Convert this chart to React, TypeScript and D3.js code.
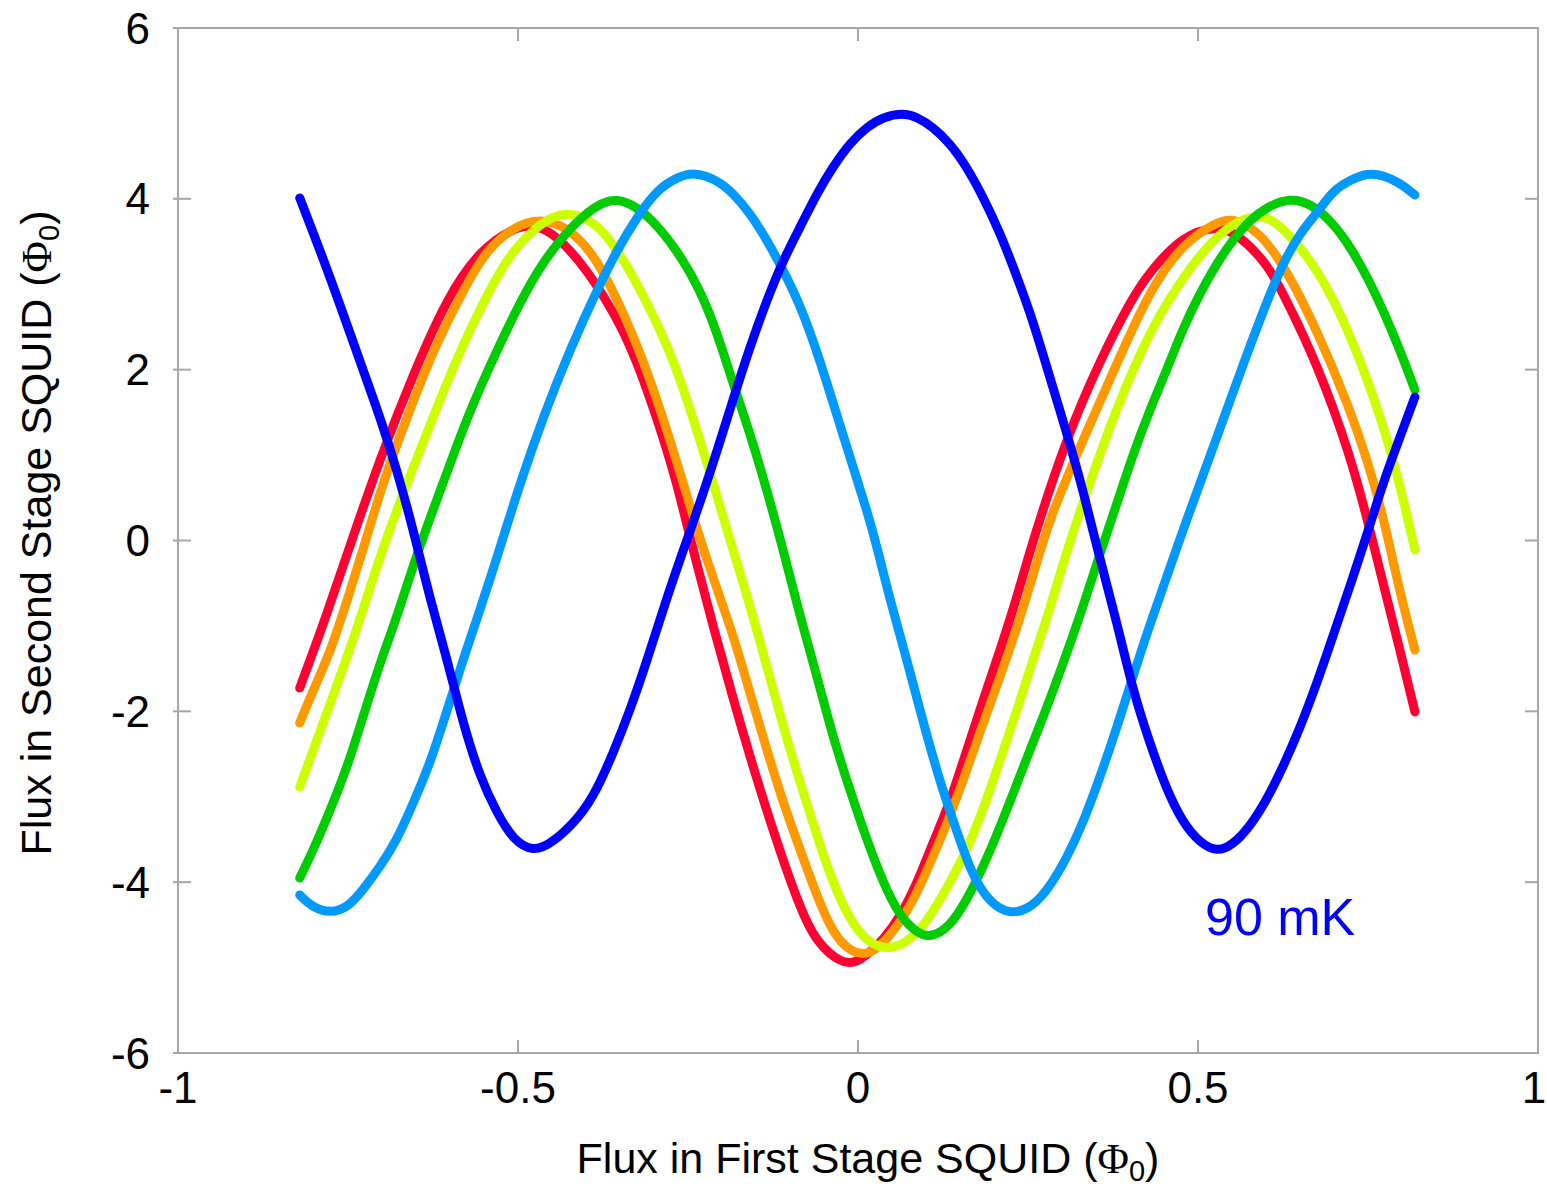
import React from "react";
import * as d3 from "d3";

// ---- Data ----
const xTicks = [-1, -0.5, 0, 0.5, 1];
const yTicks = [-6, -4, -2, 0, 2, 4, 6];

const redX = [-0.821,-0.784,-0.751,-0.703,-0.654,-0.604,-0.556,-0.507,-0.482,-0.453,-0.409,-0.365,-0.331,-0.296,-0.266,-0.243,-0.184,-0.134,-0.085,-0.06,-0.026,-0.004,0.013,0.037,0.062,0.087,0.11,0.135,0.16,0.184,0.209,0.234,0.257,0.307,0.356,0.404,0.429,0.478,0.528,0.557,0.601,0.625,0.675,0.724,0.753,0.772,0.797,0.819];
const redY = [-1.727,-0.93,-0.15,0.96,1.95,2.85,3.401,3.658,3.693,3.635,3.284,2.757,2.23,1.446,0.673,-0.111,-1.867,-3.19,-4.326,-4.712,-4.946,-4.946,-4.853,-4.677,-4.408,-4.01,-3.541,-3.073,-2.453,-1.867,-1.282,-0.66,0.0,1.212,2.113,2.851,3.143,3.576,3.682,3.6,3.249,2.897,2.078,1.0,0.123,-0.498,-1.282,-2.008];

const orangeX = [-0.821,-0.801,-0.776,-0.751,-0.728,-0.699,-0.663,-0.625,-0.575,-0.546,-0.507,-0.468,-0.428,-0.394,-0.365,-0.321,-0.287,-0.257,-0.228,-0.184,-0.159,-0.134,-0.11,-0.085,-0.06,-0.037,-0.012,0.013,0.032,0.062,0.087,0.11,0.135,0.16,0.184,0.209,0.234,0.257,0.282,0.331,0.381,0.429,0.478,0.528,0.551,0.587,0.625,0.675,0.724,0.749,0.772,0.797,0.819];
const orangeY = [-2.137,-1.75,-1.305,-0.697,-0.111,0.673,1.446,2.23,3.015,3.401,3.67,3.775,3.67,3.401,3.015,2.23,1.446,0.673,-0.111,-1.083,-1.785,-2.453,-3.073,-3.623,-4.174,-4.595,-4.817,-4.853,-4.759,-4.478,-4.127,-3.705,-3.237,-2.687,-2.137,-1.598,-1.013,-0.427,0.275,1.177,2.078,2.933,3.483,3.729,3.775,3.635,3.249,2.464,1.528,0.94,0.299,-0.615,-1.282];

const yellowX = [-0.821,-0.801,-0.751,-0.728,-0.7,-0.663,-0.625,-0.585,-0.537,-0.507,-0.468,-0.428,-0.384,-0.354,-0.325,-0.276,-0.243,-0.213,-0.184,-0.159,-0.134,-0.11,-0.085,-0.06,-0.037,-0.012,0.013,0.043,0.072,0.101,0.135,0.16,0.184,0.209,0.234,0.257,0.282,0.307,0.341,0.375,0.429,0.478,0.528,0.587,0.625,0.675,0.724,0.772,0.797,0.819];
const yellowY = [-2.886,-2.45,-1.364,-0.814,-0.111,0.673,1.446,2.23,3.015,3.401,3.717,3.869,3.717,3.401,3.015,2.23,1.446,0.673,-0.111,-0.755,-1.481,-2.183,-2.839,-3.471,-4.01,-4.443,-4.7,-4.794,-4.712,-4.478,-4.01,-3.623,-3.155,-2.57,-1.984,-1.399,-0.814,-0.111,0.673,1.446,2.464,3.085,3.6,3.869,3.67,3.202,2.429,1.376,0.65,-0.111];

const greenX = [-0.821,-0.801,-0.776,-0.751,-0.728,-0.703,-0.678,-0.647,-0.61,-0.575,-0.531,-0.487,-0.453,-0.409,-0.365,-0.335,-0.306,-0.266,-0.232,-0.207,-0.184,-0.159,-0.134,-0.11,-0.085,-0.06,-0.037,-0.012,0.013,0.037,0.062,0.087,0.106,0.135,0.16,0.184,0.209,0.234,0.257,0.282,0.307,0.331,0.356,0.381,0.404,0.429,0.454,0.478,0.503,0.528,0.551,0.576,0.601,0.635,0.665,0.699,0.724,0.749,0.772,0.797,0.819];
const greenY = [-3.951,-3.623,-3.155,-2.652,-2.066,-1.434,-0.896,-0.111,0.673,1.446,2.23,2.95,3.38,3.787,4.021,3.951,3.787,3.401,2.933,2.429,1.844,1.258,0.591,-0.111,-0.896,-1.598,-2.3,-2.921,-3.506,-4.01,-4.408,-4.595,-4.653,-4.525,-4.209,-3.822,-3.354,-2.839,-2.371,-1.867,-1.317,-0.779,-0.146,0.439,1.001,1.528,1.996,2.488,2.897,3.249,3.518,3.752,3.904,4.01,3.951,3.717,3.436,3.085,2.698,2.23,1.762];

const lightBlueX = [-0.821,-0.801,-0.776,-0.751,-0.728,-0.703,-0.678,-0.654,-0.629,-0.604,-0.581,-0.556,-0.531,-0.497,-0.463,-0.424,-0.379,-0.354,-0.325,-0.296,-0.266,-0.24,-0.207,-0.184,-0.159,-0.134,-0.11,-0.085,-0.06,-0.037,-0.012,0.013,0.028,0.047,0.072,0.096,0.121,0.146,0.169,0.194,0.224,0.257,0.282,0.307,0.331,0.356,0.381,0.404,0.429,0.454,0.478,0.503,0.528,0.551,0.576,0.601,0.625,0.65,0.675,0.699,0.724,0.749,0.772,0.797,0.819];
const lightBlueY = [-4.15,-4.302,-4.361,-4.302,-4.091,-3.822,-3.506,-3.073,-2.605,-1.984,-1.399,-0.814,-0.205,0.673,1.446,2.23,3.015,3.401,3.787,4.103,4.255,4.314,4.22,4.068,3.834,3.518,3.167,2.757,2.207,1.621,0.978,0.357,-0.076,-0.697,-1.399,-2.137,-2.839,-3.424,-3.939,-4.244,-4.384,-4.291,-4.056,-3.717,-3.307,-2.769,-2.183,-1.598,-0.989,-0.427,0.123,0.673,1.212,1.727,2.265,2.792,3.249,3.6,3.834,4.103,4.22,4.302,4.279,4.185,4.045];

const blueX = [-0.821,-0.776,-0.728,-0.703,-0.678,-0.654,-0.629,-0.604,-0.581,-0.556,-0.531,-0.507,-0.478,-0.449,-0.409,-0.384,-0.36,-0.335,-0.31,-0.287,-0.257,-0.222,-0.184,-0.159,-0.134,-0.11,-0.085,-0.06,-0.037,-0.012,0.013,0.037,0.066,0.087,0.11,0.135,0.16,0.184,0.209,0.234,0.257,0.282,0.307,0.331,0.351,0.381,0.404,0.429,0.454,0.478,0.503,0.528,0.551,0.576,0.601,0.625,0.65,0.675,0.699,0.724,0.746,0.772,0.797,0.819];
const blueY = [4.01,3.085,1.996,1.446,0.825,0.123,-0.697,-1.399,-2.137,-2.769,-3.19,-3.506,-3.647,-3.541,-3.237,-2.921,-2.488,-1.984,-1.399,-0.814,-0.111,0.673,1.645,2.265,2.815,3.284,3.67,4.068,4.373,4.653,4.841,4.958,5.005,4.958,4.841,4.653,4.373,4.021,3.6,3.085,2.581,1.914,1.258,0.591,-0.076,-0.966,-1.75,-2.371,-2.921,-3.307,-3.541,-3.647,-3.565,-3.354,-3.038,-2.652,-2.195,-1.668,-1.106,-0.521,0.006,0.673,1.212,1.68];

const seriesNames = ["red", "orange", "yellow", "green", "lightblue", "blue"];
const seriesX = [redX, orangeX, yellowX, greenX, lightBlueX, blueX];
const seriesY = [redY, orangeY, yellowY, greenY, lightBlueY, blueY];
const seriesColors = ["#ff0033", "#ff9900", "#ccff00", "#00cc00", "#0099ff", "#0000ff"];

const annotation = "90 mK";

export default function App() {
  const W = 1547, H = 1188;
  const left = 178, right = 1538, top = 28, bottom = 1053;
  const x = d3.scaleLinear().domain([-1, 1]).range([left, right]);
  const y = d3.scaleLinear().domain([-6, 6]).range([bottom, top]);
  const line = d3
    .line<[number, number]>()
    .x((d) => x(d[0]))
    .y((d) => y(d[1]))
    .curve(d3.curveBasis);

  const font = "'Liberation Sans', Arial, Helvetica, sans-serif";
  const serif = "'Liberation Serif', 'DejaVu Serif', serif";
  const axisColor = "#a6a6a6";

  return (
    <svg
      width={W}
      height={H}
      viewBox={`0 0 ${W} ${H}`}
      style={{ position: "absolute", left: 0, top: 0, background: "#fff" }}
    >
      <rect x={0} y={0} width={W} height={H} fill="#fff" />
      {/* ticks */}
      {yTicks.map((t) => (
        <g key={"yt" + t}>
          <line x1={left - 5} x2={left + 13} y1={y(t)} y2={y(t)} stroke={axisColor} strokeWidth={2} />
          <line x1={right - 13} x2={right} y1={y(t)} y2={y(t)} stroke={axisColor} strokeWidth={2} />
          <text
            x={150}
            y={y(t)}
            textAnchor="end"
            dominantBaseline="central"
            fontFamily={font}
            fontSize={44}
            fill="#000"
          >
            {t}
          </text>
        </g>
      ))}
      {xTicks.map((t, i) => (
        <g key={"xt" + t}>
          <line x1={x(t)} x2={x(t)} y1={bottom} y2={bottom - 13} stroke={axisColor} strokeWidth={2} />
          <line x1={x(t)} x2={x(t)} y1={top} y2={top + 13} stroke={axisColor} strokeWidth={2} />
          <text
            x={i === xTicks.length - 1 ? x(t) - 4 : x(t)}
            y={1103}
            textAnchor="middle"
            fontFamily={font}
            fontSize={44}
            fill="#000"
          >
            {t}
          </text>
        </g>
      ))}
      {/* frame */}
      <rect
        x={left}
        y={top}
        width={right - left}
        height={bottom - top}
        fill="none"
        stroke={axisColor}
        strokeWidth={2}
      />
      {/* curves */}
      {seriesNames.map((name, i) => {
        const pts = seriesX[i].map((v, j) => [v, seriesY[i][j]] as [number, number]);
        return (
          <path
            key={name}
            d={line(pts) || ""}
            fill="none"
            stroke={seriesColors[i]}
            strokeWidth={9}
            strokeLinecap="round"
            strokeLinejoin="round"
          />
        );
      })}
      {/* annotation */}
      <text x={1205} y={935} fontFamily={font} fontSize={52} fill="#0000ff">
        {annotation}
      </text>
      {/* axis titles */}
      <text x={868} y={1173} textAnchor="middle" fontFamily={font} fontSize={43} fill="#000">
        Flux in First Stage SQUID (
        <tspan fontFamily={serif}>Φ</tspan>
        <tspan fontSize={29} dy={8}>0</tspan>
        <tspan dy={-8}>)</tspan>
      </text>
      <text
        transform={`translate(51, 533) rotate(-90)`}
        textAnchor="middle"
        fontFamily={font}
        fontSize={43}
        fill="#000"
      >
        Flux in Second Stage SQUID (
        <tspan fontFamily={serif}>Φ</tspan>
        <tspan fontSize={29} dy={8}>0</tspan>
        <tspan dy={-8}>)</tspan>
      </text>
    </svg>
  );
}
